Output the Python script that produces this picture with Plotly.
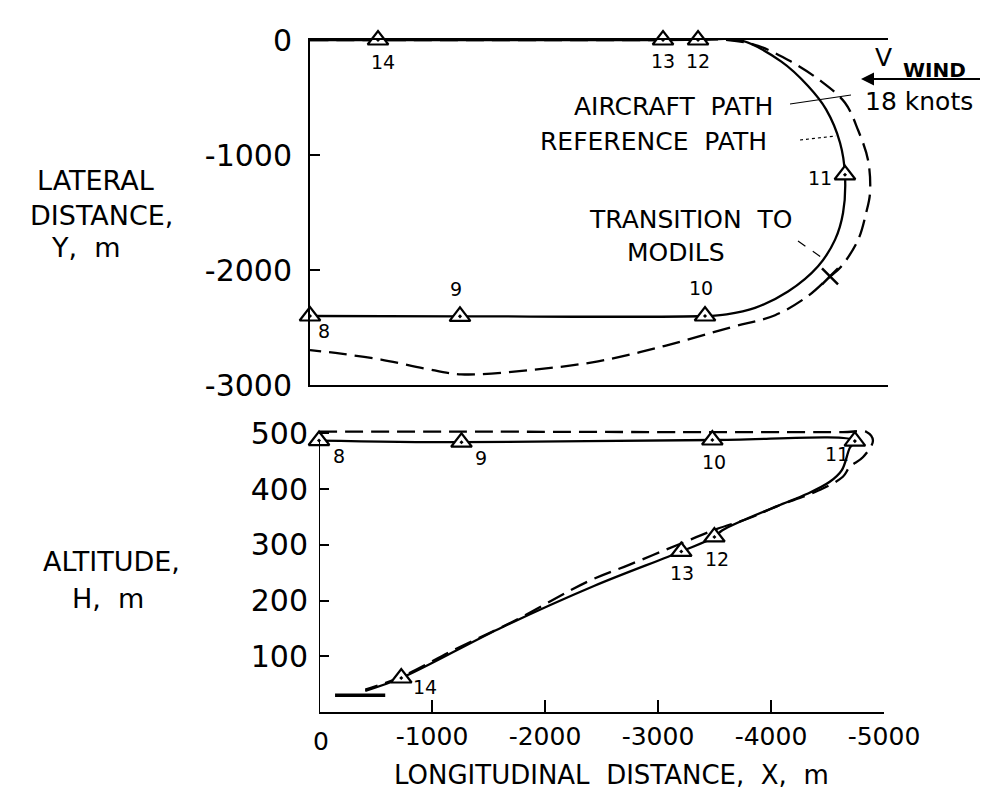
import plotly.graph_objects as go

# ---- data (metres) ----
# top panel: lateral distance Y vs longitudinal distance X
top_ref_x = [0, -604, -3135, -3446, -3828, -4183, -4423, -4583, -4707, -4751, -4734,
             -4663, -4512, -4245, -3952, -3700, -3508, -1332, 0]
top_ref_y = [0, 0, 0, 0, -4, -186, -400, -603, -893, -1172, -1502,
             -1736, -1967, -2187, -2329, -2385, -2400, -2403, -2400]

top_air_x = [0, -604, -3135, -3712, -3979, -4272, -4538, -4751, -4867, -4956, -4973,
             -4938, -4867, -4716, -4618, -4423, -4130, -3739, -3153, -2558, -1963,
             -1341, -1021, -631, -275, 0]
top_air_y = [0, 0, 0, 0, -51, -188, -358, -546, -783, -1046, -1333,
             -1506, -1739, -1971, -2056, -2226, -2393, -2498, -2659, -2794, -2869,
             -2907, -2857, -2779, -2728, -2696]

top_wp_x = [0, -1332, -3508, -4751, -3446, -3135, -604]
top_wp_y = [-2400, -2403, -2400, -1172, 0, 0, 0]

# bottom panel: altitude H vs X
bot_ref_x = [0, -1261, -3481, -4742, -4698, -4627, -4520, -4316, -4050, -3570,
             -3499, -3206, -2433, -1590, -728, -409]
bot_ref_y = [487, 484, 488, 486, 474, 434, 413, 391, 369, 326,
             314, 288, 226, 149, 61, 38]

bot_air_x = [0, -1261, -3481, -4636, -4849, -4902, -4813, -4698, -4636, -4405,
             -4050, -3810, -3517, -3188, -2744, -2389, -1705, -1200, -728, -409]
bot_air_y = [503, 503, 502, 502, 502, 487, 457, 440, 422, 396,
             369, 348, 328, 301, 264, 235, 161, 112, 63, 40]

bot_wp_x = [0, -1261, -3481, -4742, -3499, -3206, -728]
bot_wp_y = [487, 484, 488, 486, 314, 288, 61]

wp_names = ["8", "9", "10", "11", "12", "13", "14"]

runway_x = [-142, -586]
runway_y = [30, 30]

modils_x = [-4618]
modils_y = [-2056]

y_ticks_top = [0, -1000, -2000, -3000]
y_ticks_bot = [100, 200, 300, 400, 500]
x_ticks = [-1000, -2000, -3000, -4000, -5000]

W, H = 988, 789
FONT = "DejaVu Sans"


def P(px, py):
    # pixel -> paper coords
    return px / W, 1 - py / H


fig = go.Figure()

dash = "18px,8px"
fig.add_trace(go.Scatter(x=top_ref_x, y=top_ref_y, mode="lines", line_shape="spline",
                         line=dict(color="black", width=2.3), xaxis="x", yaxis="y"))
fig.add_trace(go.Scatter(x=top_air_x, y=top_air_y, mode="lines", line_shape="spline",
                         line=dict(color="black", width=2.3, dash=dash), xaxis="x", yaxis="y"))
fig.add_trace(go.Scatter(x=bot_ref_x, y=bot_ref_y, mode="lines", line_shape="spline",
                         line=dict(color="black", width=2.3), xaxis="x2", yaxis="y2"))
fig.add_trace(go.Scatter(x=bot_air_x, y=bot_air_y, mode="lines", line_shape="spline",
                         line=dict(color="black", width=2.3, dash=dash), xaxis="x2", yaxis="y2"))
fig.add_trace(go.Scatter(x=runway_x, y=runway_y, mode="lines",
                         line=dict(color="black", width=3.5), xaxis="x2", yaxis="y2"))
fig.add_trace(go.Scatter(x=modils_x, y=modils_y, mode="markers", cliponaxis=False,
                         marker=dict(symbol="x-thin", size=16, line=dict(color="black", width=2.5)),
                         xaxis="x", yaxis="y"))

for xs, ys, xa, ya in [(top_wp_x, top_wp_y, "x", "y"), (bot_wp_x, bot_wp_y, "x2", "y2")]:
    fig.add_trace(go.Scatter(x=xs, y=ys, mode="markers", cliponaxis=False,
                             marker=dict(symbol="triangle-up-dot", size=18, color="white",
                                         line=dict(color="black", width=2.2)),
                             xaxis=xa, yaxis=ya))

# waypoint numbers (pixel offsets from the triangles)
top_off = [(14, -15), (-4, 27), (-4, 28), (-25, -3), (0, -21), (0, -21), (5, -22)]
bot_off = [(20, -15), (20, -16), (2, -22), (-18, -13), (3, -22), (1, -22), (24, -9)]
ann = []
for xs, ys, offs, xa, ya in [(top_wp_x, top_wp_y, top_off, "x", "y"),
                             (bot_wp_x, bot_wp_y, bot_off, "x2", "y2")]:
    for x, y, (dx, dy), t in zip(xs, ys, offs, wp_names):
        ann.append(dict(x=x, y=y, xref=xa, yref=ya, text=t, showarrow=False,
                        xshift=dx, yshift=dy, font=dict(size=19)))


def txt(s, px, py, size=27, **kw):
    x, y = P(px, py)
    ann.append(dict(x=x, y=y, xref="paper", yref="paper", text=s, showarrow=False,
                    xanchor="center", yanchor="middle", font=dict(size=size), **kw))


txt("LATERAL", 87, 172)
txt("DISTANCE,", 93, 207)
txt("Y,  m", 78, 240)
txt("ALTITUDE,", 103, 553)
txt("H,  m", 100, 590)
txt("LONGITUDINAL  DISTANCE,  X,  m", 603, 767, size=26)
txt("0", 313, 733, size=25)
txt("AIRCRAFT  PATH", 665, 98, size=25)
txt("REFERENCE  PATH", 645, 134, size=25)
txt("TRANSITION  TO", 683, 212, size=25)
txt("MODILS", 668, 244, size=25)
txt("V", 875, 50, size=25)
txt("<b>WIND</b>", 926, 62, size=20)
txt("18 knots", 911, 93, size=25)

# wind arrow
hx, hy = P(853, 71)
ann.append(dict(x=hx, y=hy, xref="paper", yref="paper", text="", showarrow=True,
                ax=980 - 853, ay=0, arrowhead=2, arrowsize=1.3, arrowwidth=2, arrowcolor="black"))

shapes = []


def leader(p0, p1, dash_style):
    x0, y0 = P(*p0)
    x1, y1 = P(*p1)
    shapes.append(dict(type="line", xref="paper", yref="paper", x0=x0, y0=y0, x1=x1, y1=y1,
                       line=dict(color="black", width=1.2, dash=dash_style)))


leader((782, 96), (843, 87), "solid")
leader((792, 132), (828, 128), "dot")
leader((790, 233), (813, 249), "dash")

# left axis line of the altitude panel stops at the top leg
shapes.append(dict(type="line", xref="x2", yref="y2", x0=0, x1=0, y0=0, y1=487,
                   line=dict(color="black", width=2)))

fig.update_layout(
    width=W, height=H,
    margin=dict(l=0, r=0, t=0, b=0, autoexpand=False),
    plot_bgcolor="white", paper_bgcolor="white",
    showlegend=False,
    font=dict(family=FONT, color="black"),
    annotations=ann,
    shapes=shapes,
    xaxis=dict(domain=[302 / W, 880 / W], range=[0, -5133], anchor="y",
               showline=True, mirror=True, linewidth=2, linecolor="black",
               showticklabels=False, ticks="", showgrid=False, zeroline=False),
    yaxis=dict(domain=[1 - 377 / H, 1 - 32 / H], range=[-3000, 0], anchor="x",
               showline=True, linewidth=2, linecolor="black",
               ticks="inside", ticklen=10, tickwidth=2, tickcolor="black",
               tickvals=y_ticks_top, ticktext=[str(v) for v in y_ticks_top],
               tickfont=dict(size=30), ticklabelstandoff=10,
               showgrid=False, zeroline=False),
    xaxis2=dict(domain=[311 / W, 876 / W], range=[0, -5000], anchor="y2",
                showline=True, linewidth=2, linecolor="black",
                ticks="inside", ticklen=12, tickwidth=2, tickcolor="black",
                tickvals=x_ticks, ticktext=[str(v) for v in x_ticks],
                tickfont=dict(size=25), ticklabelstandoff=1,
                showgrid=False, zeroline=False),
    yaxis2=dict(domain=[1 - 704 / H, 1 - 403 / H], range=[0, 540], anchor="x2",
                showline=False,
                ticks="inside", ticklen=10, tickwidth=2, tickcolor="black",
                tickvals=y_ticks_bot, ticktext=[str(v) for v in y_ticks_bot],
                tickfont=dict(size=30), ticklabelstandoff=10,
                showgrid=False, zeroline=False),
)

fig.write_html("out.html")
